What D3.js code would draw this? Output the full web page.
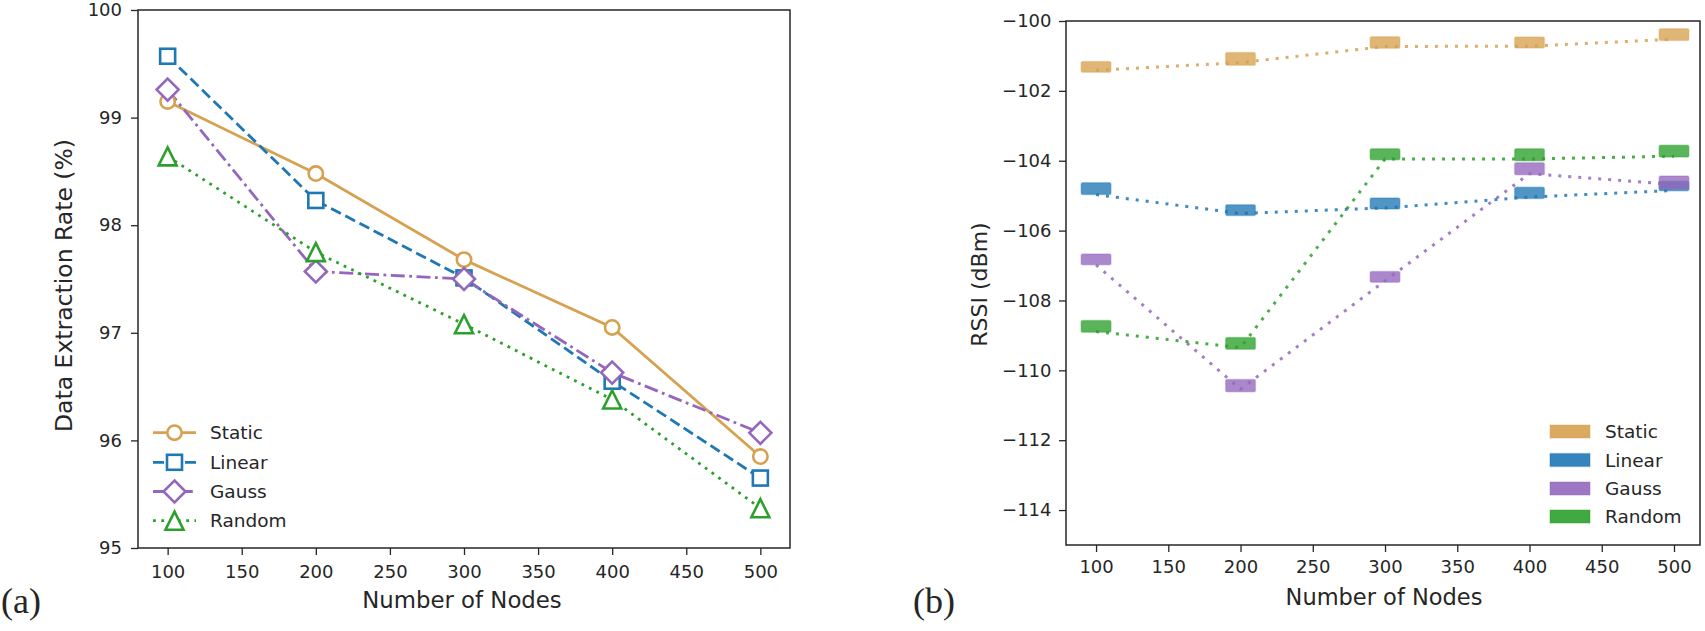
<!DOCTYPE html>
<html><head><meta charset="utf-8">
<script src="https://cdn.jsdelivr.net/npm/d3@7"></script>
<style>
body{margin:0;background:#fff;}
svg text{font-family:"DejaVu Sans",sans-serif;fill:#262626;}
</style></head>
<body><svg id="c" width="1705" height="631"></svg>
<script>
// ---- data ----
const nodes = [100, 200, 300, 400, 500];
const seriesNames = ["Static", "Linear", "Gauss", "Random"];
const seriesColors = ["#d6a150", "#1f77b4", "#9467bd", "#2ca02c"];

// (a) data extraction rate (%)
const derStatic = [99.15, 98.48, 97.68, 97.05, 95.85];
const derLinear = [99.57, 98.23, 97.51, 96.55, 95.65];
const derGauss  = [99.26, 97.57, 97.50, 96.63, 96.07];
const derRandom = [98.64, 97.75, 97.08, 96.38, 95.37];

// (b) RSSI (dBm): line values and box [low, high]
const rssiStatic = [-101.41, -101.19, -100.73, -100.72, -100.52];
const rssiLinear = [-104.97, -105.51, -105.35, -105.04, -104.85];
const rssiGauss  = [-106.98, -110.54, -107.44, -104.37, -104.68];
const rssiRandom = [-108.89, -109.35, -103.95, -103.95, -103.87];
const rssiStaticBox = [[-101.47,-101.16],[-101.27,-100.90],[-100.78,-100.45],[-100.77,-100.46],[-100.56,-100.22]];
const rssiLinearBox = [[-104.97,-104.63],[-105.57,-105.26],[-105.38,-105.07],[-105.08,-104.76],[-104.86,-104.59]];
const rssiGaussBox  = [[-106.98,-106.67],[-110.61,-110.26],[-107.48,-107.17],[-104.40,-104.06],[-104.81,-104.44]];
const rssiRandomBox = [[-108.91,-108.57],[-109.40,-109.06],[-103.97,-103.66],[-104.00,-103.66],[-103.89,-103.56]];

const xTicks = [100, 150, 200, 250, 300, 350, 400, 450, 500];
const yTicksA = [95, 96, 97, 98, 99, 100];
const yTicksB = [-114, -112, -110, -108, -106, -104, -102, -100];

const svg = d3.select("#c");
const ink = "#262626";

function styleAxis(g){
  g.select(".domain").remove();
  g.selectAll(".tick line").attr("stroke", ink).attr("stroke-width", 1.3);
  g.selectAll(".tick text").attr("fill", ink).style("font-family","DejaVu Sans").attr("font-size", 18);
}

// ================= (a) =================
{
  const L = 138, R = 790, T = 10, B = 548;
  const x = d3.scaleLinear().domain([80, 520]).range([L, R]);
  const y = d3.scaleLinear().domain([95, 100]).range([B, T]);
  const g = svg.append("g");

  g.append("g").attr("transform", `translate(0,${B})`)
    .call(d3.axisBottom(x).tickValues(xTicks).tickSize(7).tickPadding(10)).call(styleAxis);
  g.append("g").attr("transform", `translate(${L},0)`)
    .call(d3.axisLeft(y).tickValues(yTicksA).tickFormat(d3.format("d")).tickSize(7).tickPadding(9)).call(styleAxis);
  g.append("rect").attr("x", L).attr("y", T).attr("width", R - L).attr("height", B - T)
    .attr("fill", "none").attr("stroke", ink).attr("stroke-width", 1.5);

  const data = [derStatic, derLinear, derGauss, derRandom];
  const dashes = [null, "11,5", "14,4.5,2.8,4.5", "2.8,5.5"];
  const markers = ["circle", "square", "diamond", "triangle"];
  const line = d3.line().x((d, i) => x(nodes[i])).y(d => y(d));

  function drawMarker(sel, type, cx, cy, color){
    let m;
    if (type === "circle") m = sel.append("circle").attr("cx", cx).attr("cy", cy).attr("r", 7.2);
    else if (type === "square") m = sel.append("rect").attr("x", cx - 7.5).attr("y", cy - 7.5).attr("width", 15).attr("height", 15);
    else if (type === "diamond") m = sel.append("path").attr("d", `M${cx},${cy-11}L${cx+11},${cy}L${cx},${cy+11}L${cx-11},${cy}Z`);
    else m = sel.append("path").attr("d", `M${cx},${cy-9}L${cx+9},${cy+9}L${cx-9},${cy+9}Z`);
    m.attr("fill", "#fff").attr("stroke", color).attr("stroke-width", 2.6);
  }

  data.forEach((vals, k) => {
    g.append("path").datum(vals).attr("d", line).attr("fill", "none")
      .attr("stroke", seriesColors[k]).attr("stroke-width", 2.8)
      .attr("stroke-dasharray", dashes[k]);
  });
  data.forEach((vals, k) => {
    vals.forEach((v, i) => drawMarker(g, markers[k], x(nodes[i]), y(v), seriesColors[k]));
  });

  // legend
  const rows = [432.7, 462.3, 491.5, 520.7];
  seriesNames.forEach((name, k) => {
    const ry = rows[k];
    g.append("line").attr("x1", 153).attr("x2", 196).attr("y1", ry).attr("y2", ry)
      .attr("stroke", seriesColors[k]).attr("stroke-width", 2.8).attr("stroke-dasharray", dashes[k]);
    drawMarker(g, markers[k], 174.5, ry, seriesColors[k]);
    g.append("text").attr("x", 210).attr("y", ry).attr("dy", "0.36em").attr("font-size", 18.5).text(name);
  });

  g.append("text").attr("transform", `translate(72,285.5) rotate(-90)`)
    .attr("text-anchor", "middle").attr("font-size", 23.5).text("Data Extraction Rate (%)");
  g.append("text").attr("x", 462).attr("y", 608).attr("text-anchor", "middle")
    .attr("font-size", 22.8).text("Number of Nodes");
  g.append("text").attr("x", 1).attr("y", 613).style("font-family", "'Liberation Serif',serif")
    .attr("font-size", 36).attr("fill", "#000").text("(a)");
}

// ================= (b) =================
{
  const L = 1066, R = 1700, T = 21, B = 545;
  const x = d3.scaleLinear().domain([79.2, 518]).range([L, R]);
  const y = d3.scaleLinear().domain([-115, -100]).range([B, T]);
  const g = svg.append("g");

  g.append("g").attr("transform", `translate(0,${B})`)
    .call(d3.axisBottom(x).tickValues(xTicks).tickSize(7).tickPadding(8)).call(styleAxis);
  g.append("g").attr("transform", `translate(${L},0)`)
    .call(d3.axisLeft(y).tickValues(yTicksB).tickFormat(d => "\u2212" + Math.abs(d)).tickSize(7).tickPadding(7.5)).call(styleAxis);
  g.append("rect").attr("x", L).attr("y", T).attr("width", R - L).attr("height", B - T)
    .attr("fill", "none").attr("stroke", ink).attr("stroke-width", 1.5);

  const lines = [rssiStatic, rssiLinear, rssiGauss, rssiRandom];
  const boxes = [rssiStaticBox, rssiLinearBox, rssiGaussBox, rssiRandomBox];
  const line = d3.line().x((d, i) => x(nodes[i])).y(d => y(d));
  const halfW = 10.3; // box half width in node units

  lines.forEach((vals, k) => {
    boxes[k].forEach((b, i) => {
      g.append("rect").attr("x", x(nodes[i] - halfW)).attr("width", x(nodes[i] + halfW) - x(nodes[i] - halfW))
        .attr("y", y(b[1])).attr("height", y(b[0]) - y(b[1])).attr("rx", 1.5)
        .attr("fill", seriesColors[k]).attr("fill-opacity", 0.78)
        .attr("stroke", seriesColors[k]).attr("stroke-opacity", 0.35).attr("stroke-width", 1.5);
    });
    g.append("path").datum(vals).attr("d", line).attr("fill", "none")
      .attr("stroke", seriesColors[k]).attr("stroke-opacity", 0.85).attr("stroke-width", 3)
      .attr("stroke-dasharray", "3,7");
  });

  const rows = [431.5, 460, 488.5, 516.5];
  seriesNames.forEach((name, k) => {
    g.append("rect").attr("x", 1550).attr("y", rows[k] - 6.5).attr("width", 40).attr("height", 13)
      .attr("fill", seriesColors[k]).attr("fill-opacity", 0.9)
      .attr("stroke", seriesColors[k]).attr("stroke-opacity", 0.3).attr("stroke-width", 1.5);
    g.append("text").attr("x", 1605).attr("y", rows[k]).attr("dy", "0.36em")
      .attr("font-size", 18.5).text(name);
  });

  g.append("text").attr("transform", `translate(987,284.5) rotate(-90)`)
    .attr("text-anchor", "middle").attr("font-size", 22).text("RSSI (dBm)");
  g.append("text").attr("x", 1384).attr("y", 605).attr("text-anchor", "middle")
    .attr("font-size", 22.5).text("Number of Nodes");
  g.append("text").attr("x", 913).attr("y", 613).style("font-family", "'Liberation Serif',serif")
    .attr("font-size", 36).attr("fill", "#000").text("(b)");
}
</script></body></html>
